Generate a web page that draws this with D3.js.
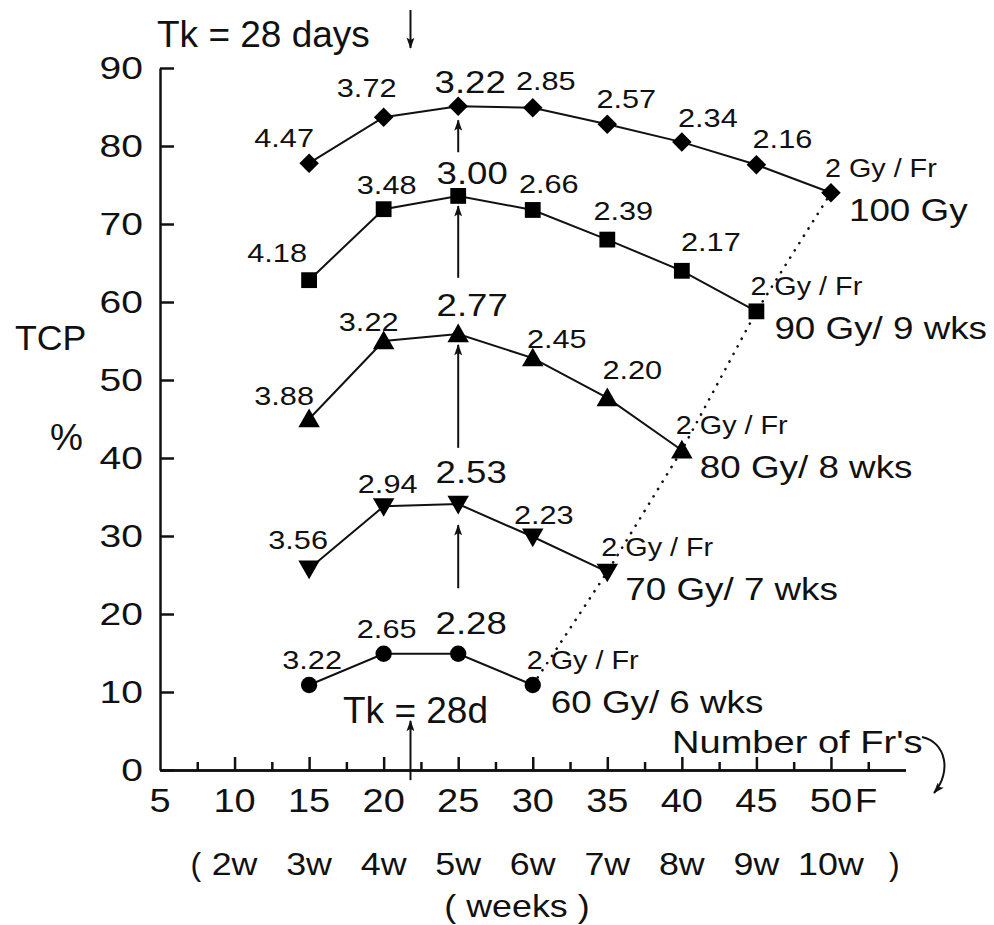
<!DOCTYPE html>
<html>
<head>
<meta charset="utf-8">
<script src="https://cdn.jsdelivr.net/npm/d3@7"></script>
<style>
  body { margin: 0; background: #fff; }
  text { font-family: "Liberation Sans", Arial, sans-serif; fill: #111; }
</style>
</head>
<body>
<svg id="chart" width="994" height="925"></svg>
<script>
// --- datos ---
const fractions = [15, 20, 25, 30, 35, 40, 45, 50];
const tcp100 = [77.8, 83.7, 85.1, 84.9, 82.8, 80.5, 77.6, 74.0];
const tcp90 = [62.8, 71.9, 73.6, 71.8, 68.0, 64.0, 58.8];
const tcp80 = [45.0, 55.0, 55.9, 52.8, 47.7, 41.0];
const tcp70 = [25.8, 33.8, 34.1, 29.9, 25.4];
const tcp60 = [10.9, 14.9, 14.9, 10.9];

const dpf100 = ["4.47", "3.72", "3.22", "2.85", "2.57", "2.34", "2.16"];
const dpf90 = ["4.18", "3.48", "3.00", "2.66", "2.39", "2.17"];
const dpf80 = ["3.88", "3.22", "2.77", "2.45", "2.20"];
const dpf70 = ["3.56", "2.94", "2.53", "2.23"];
const dpf60 = ["3.22", "2.65", "2.28"];
const endLabel = "2 Gy / Fr";
const doseLabels = ["100 Gy", "90 Gy/ 9 wks", "80 Gy/ 8 wks", "70 Gy/ 7 wks", "60 Gy/ 6 wks"];

const xTicks = [5, 10, 15, 20, 25, 30, 35, 40, 45, 50];
const yTicks = [0, 10, 20, 30, 40, 50, 60, 70, 80, 90];
const weekTicks = [10, 15, 20, 25, 30, 35, 40, 45, 50];
const weekLabels = ["2w", "3w", "4w", "5w", "6w", "7w", "8w", "9w", "10w"];

// flechas verticales en 25 Fr: [desde, hasta] en TCP %
const upArrows = [[79.2, 83.3], [63.1, 72.3], [41.3, 54.5], [23.3, 31.4]];
const tkFr = 21.8;

// --- layout ---
const series = [
  { tcp: tcp100, dpf: dpf100, shape: "diamond",
    off: [[-25, -16], [-17, -20], [12, -13], [13, -18], [19, -16], [26, -15], [26, -17]] },
  { tcp: tcp90, dpf: dpf90, shape: "square",
    off: [[-32, -18], [3, -15], [14, -12], [16, -17], [16, -20], [29, -20]] },
  { tcp: tcp80, dpf: dpf80, shape: "up",
    off: [[-25, -14], [-15, -10], [14, -18], [24, -10], [25, -19]] },
  { tcp: tcp70, dpf: dpf70, shape: "down",
    off: [[-11, -20], [4, -13], [13, -21], [11, -13]] },
  { tcp: tcp60, dpf: dpf60, shape: "circle",
    off: [[3, -16], [3, -16], [13, -20]] }
];

const svg = d3.select("#chart");
const x = d3.scaleLinear().domain([5, 55]).range([160, 905.5]);
const y = d3.scaleLinear().domain([0, 90]).range([770, 68]);

// punta de flecha: apunta hacia +x, orient auto la alinea con la línea
svg.append("defs").append("marker")
  .attr("id", "head")
  .attr("viewBox", "0 -5 14 10")
  .attr("refX", 13).attr("refY", 0)
  .attr("markerWidth", 13).attr("markerHeight", 8)
  .attr("markerUnits", "userSpaceOnUse")
  .attr("orient", "auto")
  .append("path")
  .attr("d", "M0,-5 L14,0 L0,5 L3,0 Z")
  .attr("fill", "#111");

function txt(s, px, py, size, anchor = "start", sx = 1.18) {
  return svg.append("text")
    .attr("transform", `translate(${px},${py}) scale(${sx},1)`)
    .attr("text-anchor", anchor)
    .attr("font-size", size)
    .text(s);
}

// --- ejes ---
const axisStyle = g => {
  g.selectAll("path, line").attr("stroke", "#111").attr("stroke-width", 2.5);
  g.selectAll("text").remove();
};

svg.append("g")
  .attr("transform", `translate(0,${y(0)})`)
  .call(d3.axisBottom(x).tickValues(d3.range(7.5, 55, 5)).tickSize(-8).tickSizeOuter(0))
  .call(axisStyle);
svg.append("g")
  .attr("transform", `translate(0,${y(0)})`)
  .call(d3.axisBottom(x).tickValues(xTicks.slice(1)).tickSize(-13).tickSizeOuter(0))
  .call(axisStyle);
svg.append("g")
  .attr("transform", `translate(${x(5)},0)`)
  .call(d3.axisLeft(y).tickValues(yTicks).tickSize(-14).tickSizeOuter(0))
  .call(axisStyle);

yTicks.forEach(v => txt(v, 143, y(v) + 11, 32, "end", 1.22));
xTicks.forEach(v => txt(v, x(v), 812, 33, "middle", 1.15));
txt("F", x(50) + 24, 812, 33, "start", 1.1);

weekTicks.forEach((v, i) => txt(weekLabels[i], x(v), 875, 32, "middle", 1.12));
txt("(", x(10) - 44, 875, 32, "start", 1.0);
txt(")", x(50) + 58, 875, 32, "start", 1.0);
txt("( weeks )", 517, 917, 32, "middle", 1.12);

txt("Number of Fr's", 672, 753, 32, "start", 1.19);
svg.append("path")
  .attr("d", "M922,737 C946,742 952,772 934,793")
  .attr("fill", "none").attr("stroke", "#111").attr("stroke-width", 2)
  .attr("marker-end", "url(#head)");

txt("TCP", 15, 350, 35, "start", 1.02);
txt("%", 50, 450, 37, "start", 1.0);

// --- anotaciones Tk ---
txt("Tk = 28 days", 157, 47, 37, "start", 1.0);
svg.append("line")
  .attr("x1", x(tkFr)).attr("x2", x(tkFr))
  .attr("y1", 10).attr("y2", 48)
  .attr("stroke", "#111").attr("stroke-width", 2)
  .attr("marker-end", "url(#head)");

txt("Tk = 28d", 343, 723, 37, "start", 1.0);
svg.append("line")
  .attr("x1", x(tkFr)).attr("x2", x(tkFr))
  .attr("y1", y(-1.3)).attr("y2", y(6.3))
  .attr("stroke", "#111").attr("stroke-width", 2)
  .attr("marker-end", "url(#head)");

upArrows.forEach(([a, b]) => {
  svg.append("line")
    .attr("x1", x(25)).attr("x2", x(25))
    .attr("y1", y(a)).attr("y2", y(b))
    .attr("stroke", "#111").attr("stroke-width", 2)
    .attr("marker-end", "url(#head)");
});

// --- línea punteada de 2 Gy / Fr ---
const ends = series.map(s => [fractions[s.tcp.length - 1], s.tcp[s.tcp.length - 1]]).reverse();
svg.append("path")
  .attr("d", d3.line().x(d => x(d[0])).y(d => y(d[1]))(ends))
  .attr("fill", "none").attr("stroke", "#111")
  .attr("stroke-width", 2.6).attr("stroke-dasharray", "0.1 8.5")
  .attr("stroke-linecap", "round")
  .attr("stroke-dashoffset", -9);

// --- series ---
const line = d3.line().x((d, i) => x(fractions[i])).y(d => y(d));
const symbols = {
  diamond: d3.symbol().type(d3.symbolSquare).size(190),
  square: d3.symbol().type(d3.symbolSquare).size(250),
  circle: d3.symbol().type(d3.symbolCircle).size(210),
  up: d3.symbol().type(d3.symbolTriangle).size(200),
  down: d3.symbol().type(d3.symbolTriangle).size(200)
};
const rot = { diamond: 45, square: 0, circle: 0, up: 0, down: 180 };

series.forEach((s, k) => {
  svg.append("path")
    .attr("d", line(s.tcp))
    .attr("fill", "none").attr("stroke", "#111").attr("stroke-width", 2);

  s.tcp.forEach((v, i) => {
    svg.append("path")
      .attr("d", symbols[s.shape]())
      .attr("transform", `translate(${x(fractions[i])},${y(v) + (s.shape === "up" ? 2 : s.shape === "down" ? -2 : 0)}) rotate(${rot[s.shape]})`)
      .attr("fill", "#000");
  });

  s.dpf.forEach((lab, i) => {
    const big = fractions[i] === 25;
    txt(lab, x(fractions[i]) + s.off[i][0], y(s.tcp[i]) + s.off[i][1], big ? 31 : 26, "middle", 1.18);
  });

  const n = s.tcp.length - 1;
  const px = x(fractions[n]), py = y(s.tcp[n]);
  txt(endLabel, px - 6, py - 16, 25, "start", 1.15);
  txt(doseLabels[k], px + 18, py + 28, 32, "start", 1.15);
});
</script>
</body>
</html>
